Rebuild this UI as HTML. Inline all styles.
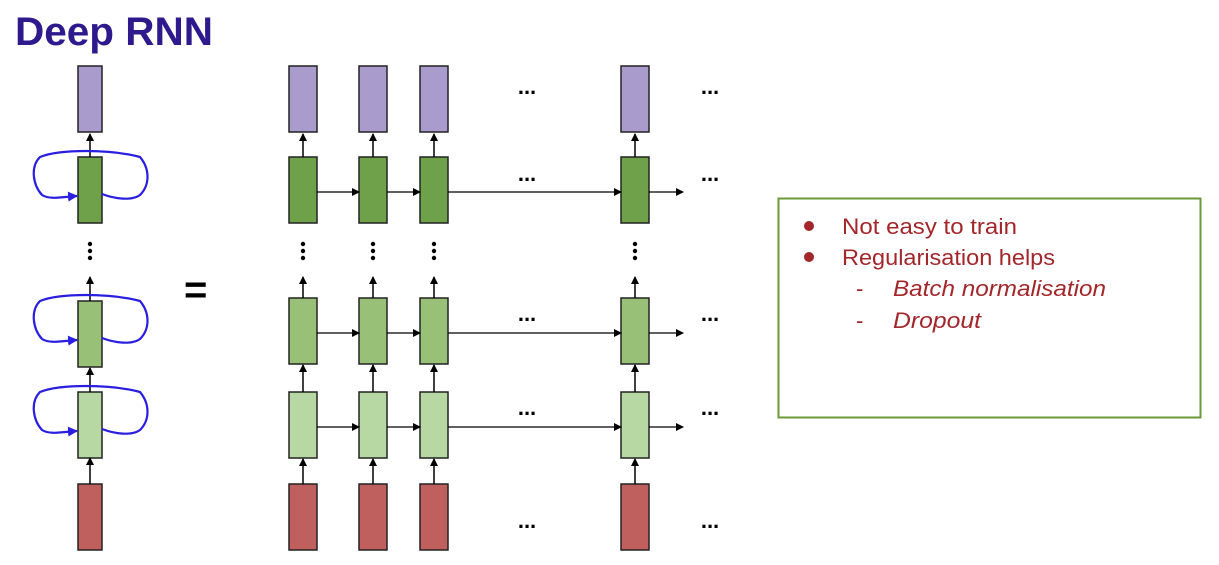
<!DOCTYPE html>
<html><head><meta charset="utf-8"><style>
body{margin:0;background:#fff;width:1219px;height:565px;overflow:hidden}
svg{display:block}
text{font-family:"Liberation Sans",sans-serif}
</style></head><body>
<svg id="s" width="1219" height="565">
<defs><marker id="ah" markerWidth="8" markerHeight="8" refX="7" refY="4" orient="auto" markerUnits="userSpaceOnUse"><path d="M0,0 L8,4 L0,8 z" fill="#000"/></marker>
<marker id="bh" markerWidth="10" markerHeight="10" refX="9" refY="5" orient="auto" markerUnits="userSpaceOnUse"><path d="M0,0 L10,5 L0,10 z" fill="#2a1ee0"/></marker></defs>
<text x="15" y="45" font-size="40" font-weight="bold" fill="#2e1a8c" textLength="198" lengthAdjust="spacingAndGlyphs">Deep RNN</text>
<text x="184" y="303" font-size="40" font-weight="bold">=</text>
<g>
<rect x="778.5" y="198.5" width="422" height="219" fill="none" stroke="#6a9a3a" stroke-width="2"/>
<g fill="#a3262a" font-size="22">
<circle cx="809" cy="226" r="5"/><circle cx="809" cy="257" r="5"/>
<text x="842" y="234" textLength="175" lengthAdjust="spacingAndGlyphs">Not easy to train</text>
<text x="842" y="265" textLength="213" lengthAdjust="spacingAndGlyphs">Regularisation helps</text>
<text x="856" y="296">-</text><text x="856" y="328">-</text>
<text x="893" y="296" font-style="italic" textLength="213" lengthAdjust="spacingAndGlyphs">Batch normalisation</text>
<text x="893" y="328" font-style="italic" textLength="88" lengthAdjust="spacingAndGlyphs">Dropout</text>
</g></g>
</svg>
<script>
const rowTops=[66,157,298,392,484];
const rowFills=['#a99bcb','#6fa14a','#98c177','#b7d7a3','#bf5f5e'];
const cols=[289,359,420,621];
const leftRows=[66,157,301,392,484];
const s=document.getElementById('s');
const NS='http://www.w3.org/2000/svg';
function mk(t,a){const e=document.createElementNS(NS,t);for(const k in a)e.setAttribute(k,a[k]);s.appendChild(e);return e;}
const H=66;
leftRows.forEach((y,i)=>{
  const r=mk('rect',{x:78,y:y,width:24,height:H,fill:rowFills[i],stroke:'#222','stroke-width':1.5});
  
  
});
[[133,157],[276,301],[367,392],[457,484]].forEach(p=>mk('line',{x1:90,y1:p[1],x2:90,y2:p[0]+1,stroke:'#000','stroke-width':1.5,'marker-end':'url(#ah)'}));
[1,2,3].forEach(i=>{
  const y=leftRows[i];
  const p=mk('path',{d:`M102,${y+37} C115,${y+42} 132,${y+44} 140,${y+38} C150,${y+28} 150,${y+12} 140,${y} C110,${y-8} 60,${y-8} 40,${y} C30,${y+10} 33,${y+28} 42,${y+38} C50,${y+43} 62,${y+40} 77,${y+39}`,fill:'none',stroke:'#2a1ee0','stroke-width':2.2,'marker-end':'url(#bh)'});
  
  
});
[244,251,258].forEach(y=>mk('circle',{cx:90,cy:y,r:2.2,fill:'#000'}));
cols.forEach((x,c)=>{
  rowTops.forEach((y,i)=>{
    const r=mk('rect',{x:x,y:y,width:28,height:H,fill:rowFills[i],stroke:'#222','stroke-width':1.5});
    
    
  });
  const cx=x+14;
  [[133,157],[276,298],[364,392],[458,484]].forEach(p=>mk('line',{x1:cx,y1:p[1],x2:cx,y2:p[0]+1,stroke:'#000','stroke-width':1.5,'marker-end':'url(#ah)'}));
  [244,251,258].forEach(y=>mk('circle',{cx:cx,cy:y,r:2.2,fill:'#000'}));
});
[1,2,3].forEach(i=>{
  const y=rowTops[i]+H/2+2;
  for(let c=0;c<cols.length;c++){
    const x1=cols[c]+28, x2=c<cols.length-1?cols[c+1]:683;
    mk('line',{x1:x1,y1:y,x2:x2,y2:y,stroke:'#000','stroke-width':1.3,'marker-end':'url(#ah)'});
  }
});
const dotYs=[94,181,321,415,528];
dotYs.forEach(y=>{[527,710].forEach(x=>{const t=mk('text',{x:x,y:y,'font-size':22,'font-weight':'bold','text-anchor':'middle'});t.textContent='...';

});});
</script>
</body></html>
